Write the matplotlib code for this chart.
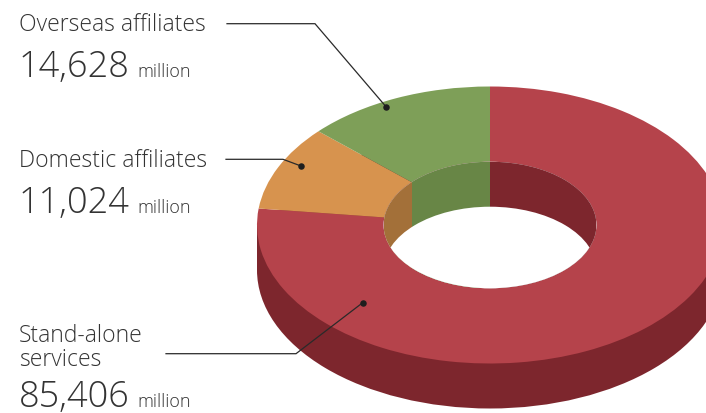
import numpy as np
from matplotlib import pyplot as plt
from matplotlib.patches import Ellipse, Rectangle

# clockwise from twelve o'clock
categories = ['Stand-alone\nservices', 'Domestic affiliates', 'Overseas affiliates']
values = [85406, 11024, 14628]
unit = 'million'

top_colors = ['#B5434B', '#D7934E', '#7E9F58']
wall_colors = ['#7D262D', '#A37039', '#688646']

TEXT = '#333333'
FONT = 'Open Sans'

# ring geometry in pixels
W, H = 706, 413
CX, CY = 490, 225
RX, RY = 233, 138.5
DEPTH = 45
HOLE = 0.457

plt.rcParams['font.family'] = FONT

fig = plt.figure(figsize=(W / 100, H / 100), dpi=100)

# the pie axes is stretched so the unit circle lands on the tilted ellipse
ax = fig.add_axes([0, 0, 1, 1])
d = DEPTH / RY

ax.add_patch(Ellipse((0, -d), 2, 2, color=wall_colors[0], lw=0))
ax.add_patch(Rectangle((-1, -d), 2, d, color=wall_colors[0], lw=0))

ax.pie(values, colors=top_colors, startangle=90, counterclock=False, radius=1,
       wedgeprops=dict(width=1 - HOLE, linewidth=0))
ax.set_aspect('auto')
ax.set_xlim((0 - CX) / RX, (W - CX) / RX)
ax.set_ylim((CY - H) / RY, CY / RY)

# inner wall seen through the hole, split by the slice boundaries
hole = Ellipse((0, 0), 2 * HOLE, 2 * HOLE, color='white', lw=0)
ax.add_patch(hole)

fractions = np.cumsum(values) / np.sum(values)
x_split = HOLE * np.sin(2 * np.pi * fractions[1])
spans = [(0, HOLE, wall_colors[0]),
         (x_split, 0, wall_colors[2]),
         (-HOLE, x_split, wall_colors[1])]
for x0, x1, c in spans:
    span = ax.add_patch(Rectangle((x0, -HOLE), x1 - x0, 2 * HOLE, color=c, lw=0))
    span.set_clip_path(hole)

opening = ax.add_patch(Ellipse((0, -d), 2 * HOLE, 2 * HOLE, color='white', lw=0))
opening.set_clip_path(hole)

# overlay in pixel coordinates for labels and leader lines
over = fig.add_axes([0, 0, 1, 1])
over.set_xlim(0, W)
over.set_ylim(H, 0)
over.axis('off')
over.patch.set_alpha(0)

leaders = [
    ([166, 296, 362.7], [353.7, 353.7, 302.7]),
    ([226, 283, 301], [159.3, 159.3, 166]),
    ([227, 315, 386], [23.7, 23.7, 106.7]),
]
label_pos = [(19, [341.7, 366], 406.7), (19, [167], 213.3), (19, [31], 77)]

for i in range(3):
    lx, ly = leaders[i]
    over.plot(lx, ly, color='#2A2A2A', lw=0.9, solid_joinstyle='miter')
    over.scatter(lx[-1], ly[-1], s=22, color='#1E1E1E', linewidths=0, zorder=3)

    x, name_ys, num_y = label_pos[i]
    for line, y in zip(categories[i].split('\n'), name_ys):
        over.text(x, y, line, fontsize=16.5, color=TEXT, va='baseline', ha='left', fontweight='light')
    over.text(x, num_y, f'{values[i]:,}', fontsize=26, color=TEXT, va='baseline', ha='left', fontweight='light')
    over.text(137.5, num_y, unit, fontsize=13, color=TEXT, va='baseline', ha='left', fontweight='light')

plt.savefig('out.png', dpi=100)
